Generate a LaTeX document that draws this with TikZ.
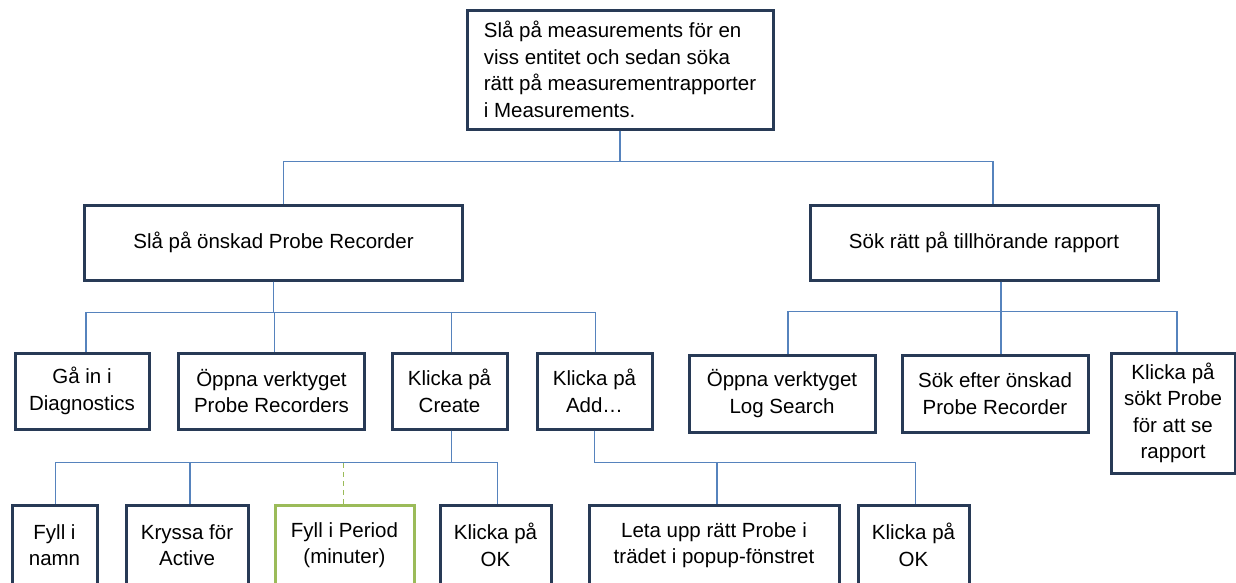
\documentclass[tikz,border=0pt]{standalone}
\usepackage{fontspec}
\setmainfont{Liberation Sans}
\usepackage{tikz}
\definecolor{boxblue}{RGB}{40,58,86}
\definecolor{boxgreen}{RGB}{155,187,89}
\definecolor{lineblue}{RGB}{86,131,189}
\newcommand{\boxfont}{\fontsize{20.5}{26.5}\selectfont}

\begin{document}
\begin{tikzpicture}[x=1pt, y=-1pt,
    box/.style={draw=boxblue, line width=3pt, fill=white, align=center, inner sep=0pt, font=\boxfont},
    greenbox/.style={box, draw=boxgreen},
    link/.style={draw=lineblue, line width=1.3pt},
    optlink/.style={draw=boxgreen, line width=1.3pt, dash pattern=on 5pt off 4pt}
]
\fill[white] (0,0) rectangle (1236,582);
\useasboundingbox (0,0) rectangle (1236,582);
\clip (0,0) rectangle (1236,582);

\node[box, align=left, minimum width=306pt, minimum height=119pt] (goal) at (620,69.5) {Slå på measurements för en\\viss entitet och sedan söka\\rätt på measurementrapporter\\i Measurements.};

\node[box, minimum width=378pt, minimum height=75pt] (rec) at (273.5,242.5) {Slå på önskad Probe Recorder};
\node[box, minimum width=348pt, minimum height=75pt] (sok) at (984,242.5) {Sök rätt på tillhörande rapport};

\node[box, minimum width=134pt, minimum height=76pt] (diag) at (82,391) {Gå in i\\Diagnostics};
\node[box, minimum width=186pt, minimum height=76pt] (prb) at (271.5,391) {Öppna verktyget\\Probe Recorders};
\node[box, minimum width=115pt, minimum height=76pt] (create) at (449.5,391) {Klicka på\\Create};
\node[box, minimum width=115pt, minimum height=76pt] (add) at (594.5,391) {Klicka på\\Add…};

\node[box, minimum width=186pt, minimum height=77pt] (logs) at (782,393.5) {Öppna verktyget\\Log Search};
\node[box, minimum width=186pt, minimum height=77pt] (efter) at (995,393.5) {Sök efter önskad\\Probe Recorder};
\node[box, minimum width=124pt, minimum height=120pt] (visa) at (1173,413) {Klicka på\\sökt Probe\\för att se\\rapport};

\node[box, minimum width=85pt, minimum height=80pt] (namn) at (54.5,545) {Fyll i\\namn};
\node[box, minimum width=122pt, minimum height=80pt] (active) at (187,545) {Kryssa för\\Active};
\node[greenbox, minimum width=139pt, minimum height=80pt] (period) at (344.5,545) {Fyll i Period\\(minuter)};
\node[box, minimum width=111pt, minimum height=80pt] (ok) at (495.5,545) {Klicka på\\OK};
\node[box, minimum width=250pt, minimum height=80pt] (leta) at (714,545) {Leta upp rätt Probe i\\trädet i popup-fönstret};
\node[box, minimum width=111pt, minimum height=80pt] (okadd) at (913.5,545) {Klicka på\\OK};

\draw[link] (goal.south) -- ++(0,31) -| ([xshift=10pt]rec.north);
\draw[link] (goal.south) -- ++(0,31) -| ([xshift=9pt]sok.north);

\draw[link] (rec.south) -- ++(0,31) -| ([xshift=4pt]diag.north);
\draw[link] (rec.south) -- ++(0,31) -| ([xshift=3pt]prb.north);
\draw[link] (rec.south) -- ++(0,31) -| ([xshift=2pt]create.north);
\draw[link] (rec.south) -- ++(0,31) -| ([xshift=1pt]add.north);

\draw[link] ([xshift=17pt]sok.south) -- ++(0,30) -| ([xshift=6pt]logs.north);
\draw[link] ([xshift=17pt]sok.south) -- ++(0,30) -| ([xshift=6pt]efter.north);
\draw[link] ([xshift=17pt]sok.south) -- ++(0,30) -| ([xshift=4pt]visa.north);

\draw[link] ([xshift=2pt]create.south) -- ++(0,32) coordinate (cbus) -| ([xshift=1pt]namn.north);
\draw[link] ([xshift=2pt]create.south) -- ++(0,32) -| ([xshift=3pt]active.north);
\draw[link] ([xshift=2pt]create.south) -- ++(0,32) -| ([xshift=2pt]ok.north);
\draw[optlink] ([xshift=-1pt]period.north) -- ([xshift=-1pt]period.north |- cbus);

\draw[link] (add.south) -- ++(0,32) -| ([xshift=3pt]leta.north);
\draw[link] (add.south) -- ++(0,32) -| ([xshift=2pt]okadd.north);
\end{tikzpicture}
\end{document}
